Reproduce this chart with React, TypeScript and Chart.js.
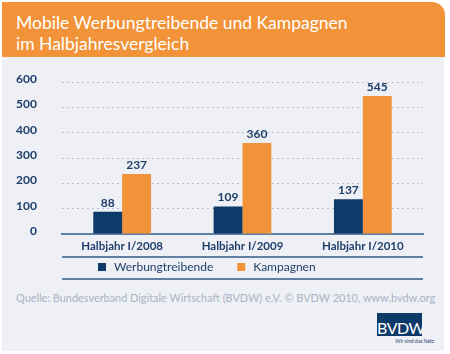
import React, { useEffect, useRef } from "react";
import { Chart, registerables } from "chart.js";

Chart.register(...registerables);

const categories = ["Halbjahr I/2008", "Halbjahr I/2009", "Halbjahr I/2010"];
const seriesNames = ["Werbungtreibende", "Kampagnen"];
const werbungtreibende = [88, 109, 137];
const kampagnen = [237, 360, 545];
const yTicks = [0, 100, 200, 300, 400, 500, 600];

const NAVY = "#0e3a69";
const ORANGE = "#f29339";
const TEXT_NAVY = "#1f3f6b";
const AXIS = "#5f7fa3";
const FONT = "Lato, 'Open Sans', sans-serif";

const extrasPlugin = {
  id: "extras",
  afterDatasetsDraw(chart: any) {
    const ctx = chart.ctx;
    ctx.save();
    ctx.font = `bold 12px ${FONT}`;
    ctx.fillStyle = TEXT_NAVY;
    ctx.textAlign = "center";
    ctx.textBaseline = "bottom";
    chart.data.datasets.forEach((ds: any, i: number) => {
      const meta = chart.getDatasetMeta(i);
      meta.data.forEach((bar: any, j: number) => {
        ctx.fillText(String(ds.data[j]), bar.x, bar.y - 3);
      });
    });
    ctx.restore();
  },
  afterDraw(chart: any) {
    const ctx = chart.ctx;
    const { left, right, bottom } = chart.chartArea;
    ctx.save();
    ctx.strokeStyle = AXIS;
    ctx.lineWidth = 2;
    [bottom + 23, bottom + 45].forEach((y) => {
      ctx.beginPath();
      ctx.moveTo(left, y);
      ctx.lineTo(right, y);
      ctx.stroke();
    });
    // legend
    const ly = bottom + 33;
    let x = left + 36;
    ctx.font = `12px ${FONT}`;
    ctx.textAlign = "left";
    ctx.textBaseline = "middle";
    chart.data.datasets.forEach((ds: any) => {
      ctx.fillStyle = ds.backgroundColor;
      ctx.fillRect(x, ly - 4, 8, 8);
      x += 16;
      ctx.fillStyle = TEXT_NAVY;
      ctx.fillText(ds.label, x, ly);
      x += ctx.measureText(ds.label).width + 24;
    });
    ctx.restore();
  },
};

export default function App() {
  const ref = useRef<HTMLCanvasElement | null>(null);
  useEffect(() => {
    document.body.style.margin = "0";
    const chart = new Chart(ref.current as HTMLCanvasElement, {
      type: "bar",
      data: {
        labels: categories,
        datasets: [
          { label: seriesNames[0], data: werbungtreibende, backgroundColor: NAVY },
          { label: seriesNames[1], data: kampagnen, backgroundColor: ORANGE },
        ],
      },
      options: {
        responsive: false,
        animation: false,
        maintainAspectRatio: false,
        layout: { padding: { top: 14, right: 27, bottom: 32, left: 0 } },
        datasets: { bar: { categoryPercentage: 0.48, barPercentage: 1 } } as any,
        plugins: { legend: { display: false }, tooltip: { enabled: false }, title: { display: false } },
        scales: {
          x: {
            grid: { display: false, drawTicks: false },
            border: { display: true, color: AXIS, width: 2 },
            ticks: { color: TEXT_NAVY, font: { family: FONT, size: 11.5, weight: "bold" }, padding: 5 },
            afterFit: (s: any) => { s.height = 20; },
          },
          y: {
            min: yTicks[0],
            max: yTicks[yTicks.length - 1],
            afterBuildTicks: (s: any) => { s.ticks = yTicks.map((v) => ({ value: v })); },
            grid: { color: "#b9c1cd", drawTicks: false, lineWidth: 1 },
            border: { display: false, dash: [2, 3] },
            ticks: { color: TEXT_NAVY, font: { family: FONT, size: 12, weight: "bold" }, padding: 25, labelOffset: -3 },
            afterFit: (s: any) => { s.width = 62; },
          },
        },
      },
      plugins: [extrasPlugin],
    });
    return () => chart.destroy();
  }, []);

  return (
    <div style={{ position: "relative", width: 450, height: 354, background: "#ffffff", overflow: "hidden" }}>
      <div style={{ position: "absolute", left: 2, top: 57, width: 442, height: 294, background: "#eef0f5" }} />
      <div
        style={{
          position: "absolute", left: 2, top: 2, width: 443, height: 55, background: ORANGE,
          borderTopRightRadius: 13, color: "#ffffff", fontFamily: FONT, fontSize: 17.5, lineHeight: "21px",
          boxSizing: "border-box", padding: "10px 0 0 14px",
        }}
      >
        Mobile Werbungtreibende und Kampagnen
        <br />
        im Halbjahresvergleich
      </div>
      <canvas ref={ref} width={450} height={236} style={{ position: "absolute", left: 0, top: 50, width: 450, height: 236 }} />
      <div
        style={{
          position: "absolute", left: 16, top: 290, width: 430, whiteSpace: "nowrap",
          color: "#a9b4c6", fontFamily: FONT, fontSize: 10.9, lineHeight: "16px",
        }}
      >
        Quelle: Bundesverband Digitale Wirtschaft (BVDW) e.V. © BVDW 2010, www.bvdw.org
      </div>
      <div
        style={{
          position: "absolute", left: 377, top: 313, width: 45, height: 23, background: NAVY,
          color: "#ffffff", fontFamily: FONT, fontSize: 16, lineHeight: "30px", textAlign: "center",
          letterSpacing: -0.5, overflow: "hidden",
        }}
      >
        BVDW
      </div>
      <div
        style={{
          position: "absolute", left: 394, top: 338, width: 40, color: "#1f3f6b", fontFamily: FONT,
          fontSize: 5, lineHeight: "6px", whiteSpace: "nowrap", textAlign: "right",
        }}
      >
        Wir sind das Netz
      </div>
    </div>
  );
}
